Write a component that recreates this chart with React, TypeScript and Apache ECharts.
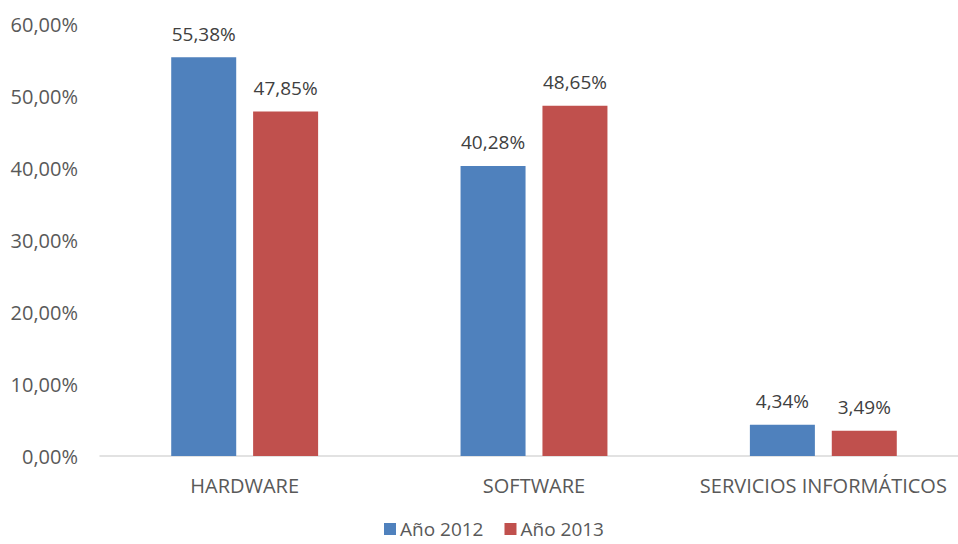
import React, { useEffect, useRef } from "react";
import * as echarts from "echarts";

const categories = ["HARDWARE", "SOFTWARE", "SERVICIOS INFORMÁTICOS"];
const seriesNames = ["Año 2012", "Año 2013"];
const values2012 = [55.38, 40.28, 4.34];
const values2013 = [47.85, 48.65, 3.49];
const colors = ["#4F81BD", "#C0504D"];

const fmt = (v: number) => v.toFixed(2).replace(".", ",") + "%";

export default function App() {
  const ref = useRef<HTMLDivElement>(null);
  useEffect(() => {
    const chart = echarts.init(ref.current!, null, { renderer: "svg" });
    const font = "'Open Sans', 'Noto Sans', sans-serif";
    const mk = (name: string, data: number[], color: string) => ({
      name,
      type: "bar",
      data,
      barWidth: 65,
      barGap: "26%",
      itemStyle: { color },
      label: {
        show: true,
        position: "top",
        distance: 14,
        color: "#404040",
        fontSize: 19,
        fontFamily: font,
        formatter: (p: any) => fmt(p.value),
      },
    });
    chart.setOption({
      animation: false,
      textStyle: { fontFamily: font },
      grid: {
        left: 100,
        width: 868,
        top: 24,
        height: 432,
        containLabel: false,
        outerBoundsMode: "none",
      },
      legend: {
        top: 519,
        left: 384,
        padding: 0,
        itemWidth: 12,
        itemHeight: 12,
        itemGap: 21,
        icon: "rect",
        textStyle: {
          color: "#595959",
          fontSize: 19,
          lineHeight: 20,
          fontFamily: font,
          padding: [0, 0, 0, -1],
        },
        data: seriesNames,
      },
      xAxis: {
        type: "category",
        data: categories,
        axisLine: { lineStyle: { color: "#D9D9D9", width: 1.5 } },
        axisTick: { show: false },
        axisLabel: { color: "#595959", fontSize: 20, fontFamily: font, margin: 19, interval: 0 },
      },
      yAxis: {
        type: "value",
        min: 0,
        max: 60,
        interval: 10,
        splitLine: { show: false },
        axisLine: { show: false },
        axisTick: { show: false },
        axisLabel: {
          color: "#595959",
          fontSize: 20,
          fontFamily: font,
          margin: 22,
          formatter: (v: number) => fmt(v),
        },
      },
      series: [
        mk(seriesNames[0], values2012, colors[0]),
        mk(seriesNames[1], values2013, colors[1]),
      ],
    });
    return () => chart.dispose();
  }, []);
  return (
    <div
      ref={ref}
      style={{ position: "absolute", left: 0, top: 0, width: 958, height: 544 }}
    />
  );
}
